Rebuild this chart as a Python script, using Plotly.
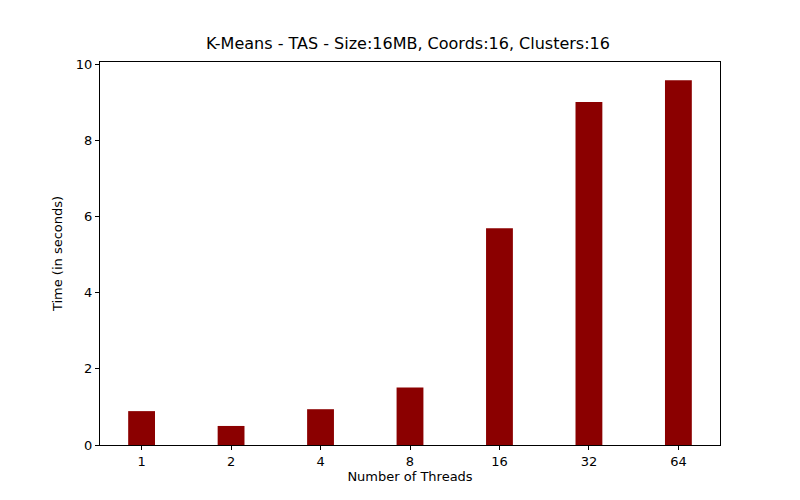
import plotly.graph_objects as go

threads = ["1", "2", "4", "8", "16", "32", "64"]
times = [0.89, 0.50, 0.94, 1.51, 5.69, 9.01, 9.58]

fig = go.Figure()
fig.add_trace(go.Bar(x=list(range(len(threads))), y=times, width=0.3,
                     marker=dict(color="#8b0000", line=dict(width=0))))

axis_style = dict(showline=True, linecolor="black", linewidth=1, mirror=True,
                  ticks="outside", ticklen=4, tickcolor="black", showgrid=False,
                  zeroline=False, tickfont=dict(size=13, color="black"))
fig.update_xaxes(range=[-0.465, 6.465], tickvals=list(range(len(threads))), ticktext=threads,
                 title=dict(text="Number of Threads", font=dict(size=13, color="black"), standoff=4),
                 **axis_style)
fig.update_yaxes(range=[0, 10.06], dtick=2,
                 title=dict(text="Time (in seconds)", font=dict(size=13, color="black"), standoff=10),
                 **axis_style)
fig.update_layout(
    width=800, height=500, plot_bgcolor="white", paper_bgcolor="white",
    font=dict(family="DejaVu Sans", color="black"),
    title=dict(text="K-Means - TAS - Size:16MB, Coords:16, Clusters:16",
               x=0.5, xanchor="center", y=0.941, font=dict(size=16)),
    margin=dict(l=92, r=88, t=54, b=63), showlegend=False,
)
fig.write_html("out.html")
